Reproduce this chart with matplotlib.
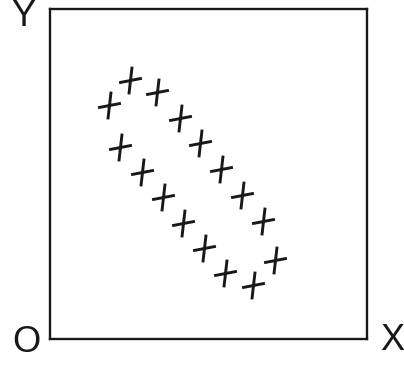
import numpy as np
import matplotlib
matplotlib.use("Agg")
import matplotlib.pyplot as plt
from matplotlib.path import Path

# marker centres (0-100 inside the box)
xs = [18.6, 25.2, 33.8, 40.9, 47.3, 53.9, 60.6, 67.2,
      71.0, 64.0, 55.2, 48.7, 42.1, 35.5, 28.9, 22.2]
ys = [70.9, 78.5, 74.7, 67.0, 59.4, 51.5, 43.6, 35.8,
      23.9, 16.4, 20.0, 27.6, 35.2, 42.9, 50.5, 58.2]

corner_labels = ["Y", "O", "X"]

# slanted hand-drawn looking plus
plus = Path([(-11.5, -2.2), (11.5, 2.2), (-1.6, -14), (1.6, 14)],
            [Path.MOVETO, Path.LINETO, Path.MOVETO, Path.LINETO])

fig = plt.figure(figsize=(4.04, 3.65), dpi=100)
ax = fig.add_axes([50/404, 26/365, 317/404, 330/365])
ax.set_xlim(0, 100)
ax.set_ylim(0, 100)
ax.set_xticks([])
ax.set_yticks([])
for s in ax.spines.values():
    s.set_linewidth(1.7)
    s.set_color("#1a1718")

ax.plot(xs, ys, linestyle="none", marker=plus, markersize=20,
        markeredgewidth=2.1, color="#1a1718")

font = dict(family="Liberation Sans", fontsize=26, color="#1a1718",
            ha="center", va="center")
fig.text(23.5/404, 1 - 16.5/365, corner_labels[0], **font)
fig.text(26/404, 1 - 342/365, corner_labels[1], **font)
fig.text(392.5/404, 1 - 341/365, corner_labels[2], **font)

fig.savefig("out.png", dpi=100)
